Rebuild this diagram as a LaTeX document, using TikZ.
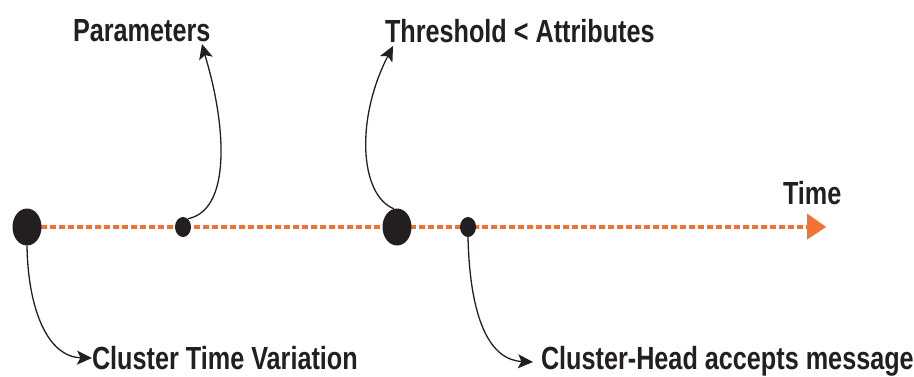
\documentclass[tikz,border=0pt]{standalone}
\usepackage{fontspec}
\newfontfamily\labfont[FakeStretch=0.788]{Liberation Sans Bold}
\usetikzlibrary{arrows.meta,shapes.geometric}
\definecolor{tlorange}{RGB}{242,113,51}
\definecolor{inkblack}{RGB}{35,31,32}
\begin{document}
\begin{tikzpicture}[x=1pt,y=-1pt,
  dotnode/.style={ellipse,fill=inkblack,draw=none,inner sep=0pt},
  bigdot/.style={dotnode,minimum width=29pt,minimum height=37pt},
  smalldot/.style={dotnode,minimum width=16pt,minimum height=20pt},
  lab/.style={anchor=base west,inner sep=0pt,outer sep=0pt,text=inkblack,font=\labfont\fontsize{32}{36}\selectfont},
  timeline/.style={draw=tlorange,line width=4.3pt,dash pattern=on 6pt off 3pt},
  curvearrow/.style={draw=inkblack,line width=1.3pt,-{Stealth[length=15pt,width=14pt,inset=3.5pt]}}
]
\useasboundingbox (0,0) rectangle (914,376);
% timeline
\coordinate (t0) at (41,227);
\coordinate (t1) at (808,227);
\coordinate (tip) at (826,227);
\draw[timeline] (t0) -- (t1);
\fill[tlorange] (807,213.5) -- (tip) -- (807,239.5) -- cycle;
% dots
\node[bigdot] (d1) at (27,227) {};
\node[smalldot] (d2) at (183,227) {};
\node[bigdot] (d3) at (397,227) {};
\node[smalldot] (d4) at (468,227) {};
% labels
\node[lab] (lpar) at (73,41) {Parameters};
\node[lab] (lthr) at (385,42) {Threshold < Attributes};
\node[lab] (ltime) at (783,204) {Time};
\node[lab] (lctv) at (92,369) {Cluster Time Variation};
\node[lab] (lch) at (541,369) {Cluster-Head accepts message};
% arrow tips
\coordinate (apar) at (202,44);
\coordinate (athr) at (393,46);
\coordinate (actv) at (92,358);
\coordinate (ach) at (533,362);
% connectors
\draw[curvearrow] (d2.60) .. controls (222,212) and (224,160) .. (219,120) .. controls (215,88) and (208,66) .. (apar);
\draw[curvearrow] (d3.100) .. controls (360,195) and (355,120) .. (athr);
\draw[curvearrow] (d1.south) .. controls (28,310) and (48,357) .. (actv);
\draw[curvearrow] (d4.south) .. controls (470,320) and (490,360) .. (ach);
\end{tikzpicture}
\end{document}
